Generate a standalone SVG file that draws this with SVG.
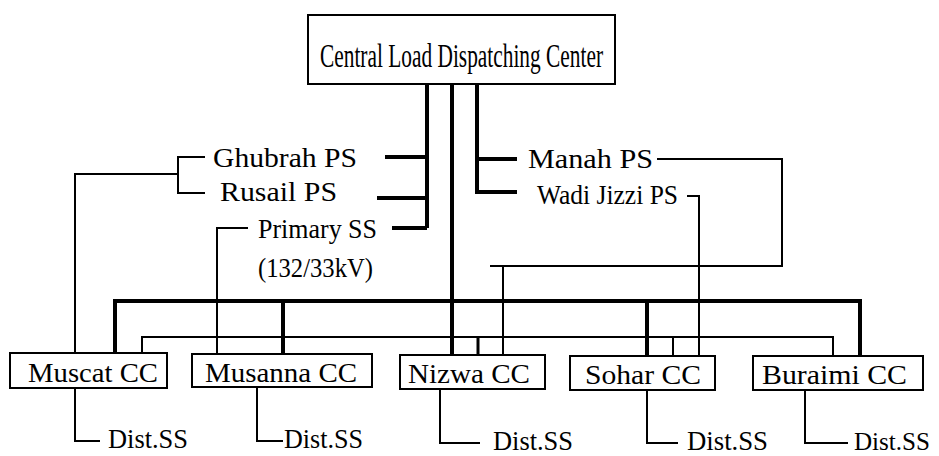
<svg xmlns="http://www.w3.org/2000/svg" width="939" height="456" viewBox="0 0 939 456">
<style>
.box{fill:#fff;stroke:#000;stroke-width:2}
.t{font-family:"Liberation Serif","Times New Roman",serif;font-size:28px;fill:#000}
.thick{fill:none;stroke:#000;stroke-width:4}
.thin{fill:none;stroke:#000;stroke-width:2}
</style>
<rect width="939" height="456" fill="#fff"/>
<g id="connectors">
<path class="thick" d="M427,84 V228 M385,157 H427 M377,198 H427 M392,228 H427"/>
<path class="thick" d="M452,84 V355"/>
<path class="thick" d="M477,84 V192 H517 M477,159 H517"/>
<path class="thin" d="M205,157 H178 V193 H205 M178,174 H75 V353"/>
<path class="thin" d="M248,228 H217 V354"/>
<path class="thin" d="M657,159 H782 V266 H490 M503,266 V355"/>
<path class="thin" d="M687,196 H699 V356"/>
<path class="thick" d="M115,353 V301 H860 V356 M283,301 V354 M647,301 V356"/>
<path class="thin" d="M142,353 V337 H833 V356 M673,337 V356"/>
<path class="thick" d="M478,337 V355" style="stroke-width:3"/>
<path class="thin" d="M75,388 V441 H100"/>
<path class="thin" d="M257,387 V441 H283"/>
<path class="thin" d="M440,388 V443 H480"/>
<path class="thin" d="M647,390 V443 H678"/>
<path class="thin" d="M805,390 V443 H848"/>
</g>
<g id="center">
<rect class="box" x="308" y="15" width="307" height="69"/>
<text class="t" x="320" y="67" style="font-size:34px" textLength="283" lengthAdjust="spacingAndGlyphs">Central Load Dispatching Center</text>
</g>
<g id="ghubrah"><text class="t" x="213" y="167" textLength="144" lengthAdjust="spacingAndGlyphs">Ghubrah  PS</text></g>
<g id="rusail"><text class="t" x="220" y="201" textLength="117" lengthAdjust="spacingAndGlyphs">Rusail  PS</text></g>
<g id="primary">
<text class="t" x="258" y="238" textLength="119" lengthAdjust="spacingAndGlyphs">Primary SS</text>
<text class="t" x="258" y="277" textLength="115" lengthAdjust="spacingAndGlyphs">(132/33kV)</text>
</g>
<g id="manah"><text class="t" x="528" y="168" textLength="125" lengthAdjust="spacingAndGlyphs">Manah  PS</text></g>
<g id="wadi"><text class="t" x="537" y="204" textLength="141" lengthAdjust="spacingAndGlyphs">Wadi Jizzi PS</text></g>
<g id="muscat">
<rect class="box" x="10" y="353" width="157" height="35"/>
<text class="t" x="28" y="382" textLength="130" lengthAdjust="spacingAndGlyphs">Muscat  CC</text>
</g>
<g id="musanna">
<rect class="box" x="192" y="354" width="180" height="33"/>
<text class="t" x="205" y="382" textLength="152" lengthAdjust="spacingAndGlyphs">Musanna  CC</text>
</g>
<g id="nizwa">
<rect class="box" x="400" y="355" width="145" height="34"/>
<text class="t" x="408" y="383" textLength="122" lengthAdjust="spacingAndGlyphs">Nizwa  CC</text>
</g>
<g id="sohar">
<rect class="box" x="570" y="356" width="145" height="34"/>
<text class="t" x="585" y="384" textLength="116" lengthAdjust="spacingAndGlyphs">Sohar  CC</text>
</g>
<g id="buraimi">
<rect class="box" x="753" y="356" width="170" height="34"/>
<text class="t" x="762" y="384" textLength="145" lengthAdjust="spacingAndGlyphs">Buraimi  CC</text>
</g>
<g id="dist1"><text class="t" x="108" y="448" textLength="80" lengthAdjust="spacingAndGlyphs">Dist.SS</text></g>
<g id="dist2"><text class="t" x="284" y="448" textLength="79" lengthAdjust="spacingAndGlyphs">Dist.SS</text></g>
<g id="dist3"><text class="t" x="493" y="450" textLength="80" lengthAdjust="spacingAndGlyphs">Dist.SS</text></g>
<g id="dist4"><text class="t" x="687" y="450" textLength="81" lengthAdjust="spacingAndGlyphs">Dist.SS</text></g>
<g id="dist5"><text class="t" x="854" y="450" style="font-size:26px" textLength="76" lengthAdjust="spacingAndGlyphs">Dist.SS</text></g>
</svg>
